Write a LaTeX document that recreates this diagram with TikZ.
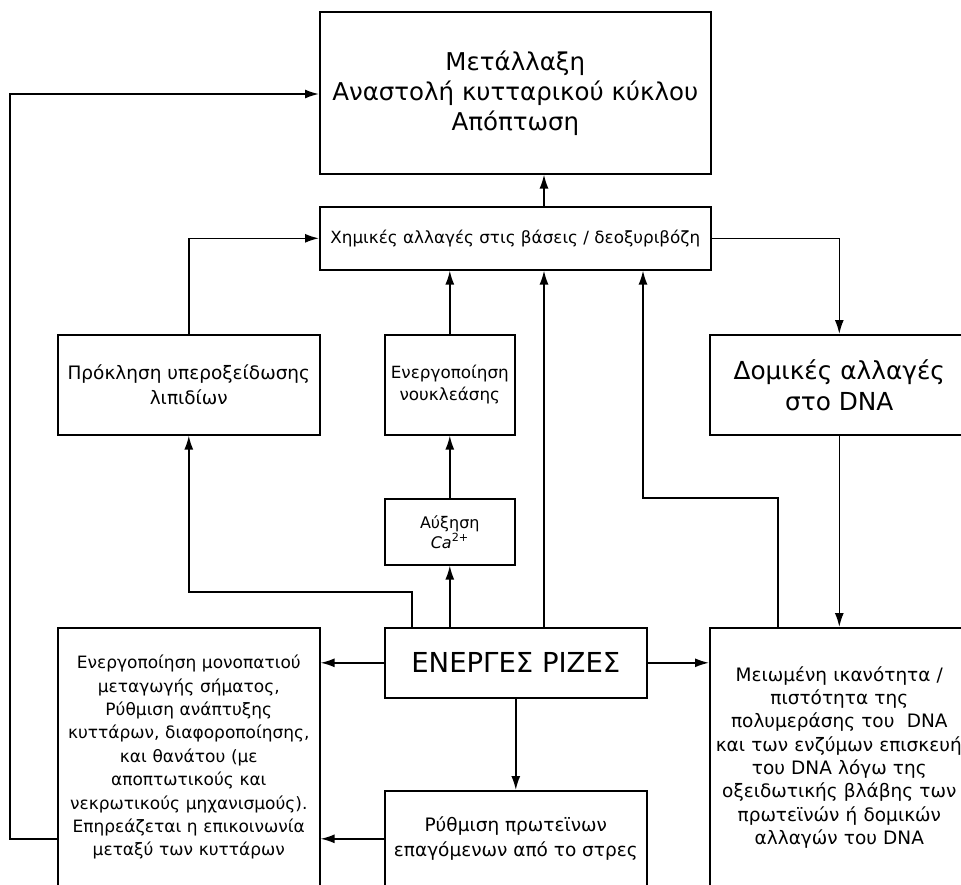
\documentclass[tikz,border=0pt]{standalone}
\usepackage{fontspec}
\setmainfont{DejaVu Sans}
\usetikzlibrary{arrows.meta}

\begin{document}
\begin{tikzpicture}[x=1pt, y=-1pt,
box/.style = {shape=rectangle, draw, line width=1.6pt, align=center,
anchor=north west, inner sep=0pt},
arr/.style = {line width=1.6pt, -{Latex[length=14pt, width=9pt]}},
big/.style = {font=\fontsize{24.5}{30}\selectfont},
norm/.style = {font=\fontsize{17}{23.4}\selectfont},
small/.style = {font=\fontsize{16.8}{22}\selectfont}]
\useasboundingbox (0,0) rectangle (961,884);
\clip (0,0) rectangle (961,884);

% boxes
\node (metallaxi)[box, big, minimum width=391, minimum height=162] at (319,11)
{Μετάλλαξη\\ Αναστολή κυτταρικού κύκλου\\ Απόπτωση};
\node (chem)[box, small, minimum width=391, minimum height=63] at (319,206)
{Χημικές αλλαγές στις βάσεις / δεοξυριβόζη};
\node (lipid)[box, font=\fontsize{18.5}{25}\selectfont, minimum width=262, minimum height=100] at (57,334)
{Πρόκληση υπεροξείδωσης\\ λιπιδίων};
\node (nuclease)[box, small, minimum width=130, minimum height=100] at (384,334)
{Ενεργοποίηση\\ νουκλεάσης};
\node (calcium)[box, font=\fontsize{16}{20}\selectfont, minimum width=130, minimum height=66] at (384,498)
{Αύξηση\\ \textit{Ca}\textsuperscript{2+}};
\node (radicals)[box, font=\fontsize{27.5}{30}\selectfont, minimum width=262, minimum height=70] at (384,627)
{ΕΝΕΡΓΕΣ ΡΙΖΕΣ};
\node (signal)[box, norm, inner xsep=6pt, text width=250, minimum height=259] at (57,627)
{Ενεργοποίηση μονοπατιού\\ μεταγωγής σήματος,\\ Ρύθμιση ανάπτυξης\\
κυττάρων, διαφοροποίησης,\\ και θανάτου (με\\ αποπτωτικούς και\\
νεκρωτικούς μηχανισμούς).\\ Επηρεάζεται η επικοινωνία\\ μεταξύ των κυττάρων};
\node (stress)[box, font=\fontsize{18.5}{25}\selectfont, minimum width=262, minimum height=96] at (384,790)
{Ρύθμιση πρωτεϊνων\\ επαγόμενων από το στρες};
\node (domikes)[box, font=\fontsize{24.8}{31}\selectfont, minimum width=259, minimum height=100] at (709,334)
{Δομικές αλλαγές\\ στο DNA};
\node (meiomeni)[box, font=\fontsize{18.5}{23.3}\selectfont, inner xsep=6pt, text width=247, minimum height=259] at (709,627)
{Μειωμένη ικανότητα /\\ πιστότητα της\\ πολυμεράσης του \ DNA\\
\mbox{και των ενζύμων επισκευής}\\ του DNA λόγω της\\ οξειδωτικής βλάβης των\\
πρωτεϊνών ή δομικών\\ αλλαγών του DNA};

% turning points
\coordinate (outer) at (10,94);
\coordinate (maincol) at (544,0);
\coordinate (lipturn) at (412,592);
\coordinate (retturn) at (778,498);
\coordinate (retcol) at (643,0);

% connectors
\draw[arr] (chem.north -| maincol) -- (metallaxi.south -| maincol);
\draw[arr] (lipid.north) |- (chem.west);
\draw[arr] (chem.east) -| (domikes.north);
\draw[arr] (nuclease.north) -- (chem.south -| nuclease.north);
\draw[arr] (calcium.north) -- (nuclease.south);
\draw[arr] (radicals.north -| calcium.south) -- (calcium.south);
\draw[arr] (radicals.north -| maincol) -- (chem.south -| maincol);
\draw[arr] (radicals.north -| lipturn) -- (lipturn) -| (lipid.south);
\draw[arr] (radicals.west) -- (signal.east |- radicals.west);
\draw[arr] (radicals.east) -- (meiomeni.west |- radicals.east);
\draw[arr] (radicals.south) -- (stress.north);
\draw[arr] (stress.west) -- (signal.east |- stress.west);
\draw[arr] (signal.west |- stress.west) -| (outer) -- (metallaxi.west |- outer);
\draw[arr] (domikes.south) -- (meiomeni.north -| domikes.south);
\draw[arr] (meiomeni.north -| retturn) -- (retturn) -| (chem.south -| retcol);
\end{tikzpicture}
\end{document}
